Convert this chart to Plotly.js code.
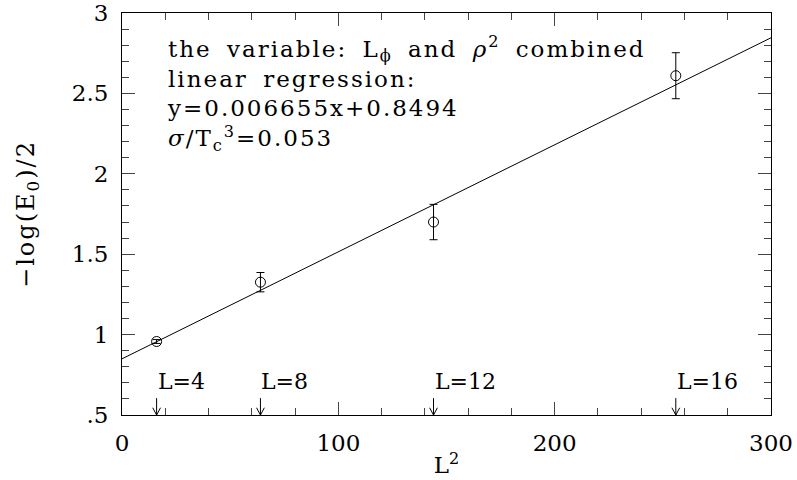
<!DOCTYPE html>
<html>
<head>
<meta charset="utf-8">
<script src="https://cdn.plot.ly/plotly-3.0.1.min.js"></script>
<style>
  html, body { margin: 0; padding: 0; background: #fff; }
  #chart { width: 797px; height: 480px; }
  /* the info block in the reference is set a little looser than DejaVu Serif */
  #chart .annotation[data-index="0"] .annotation-text { letter-spacing: 2px; word-spacing: 6px; }
  #chart .ytitle { letter-spacing: 2px; }
</style>
</head>
<body>
<div id="chart"></div>
<script>
const latticeL = [4, 8, 12, 16];
const lSquared = [16, 64, 144, 256];
const negLogE0 = [0.957, 1.326, 1.700, 2.610];
const errors = [0.012, 0.060, 0.110, 0.143];

// regression line end points, y = 0.006655x + 0.8494
const fitX = [0, 300];
const fitY = [0.8494, 2.8459];

const yTickVals = [0.5, 1, 1.5, 2, 2.5, 3];
const yTickText = ['.5', '1', '1.5', '2', '2.5', '3'];
const xTickVals = [0, 100, 200, 300];

const infoLines = [
  'the variable: L<sub>ϕ</sub> and <i>ρ</i><sup>2</sup> combined',
  'linear regression:',
  'y=0.006655x+0.8494',
  '<i>σ</i>/T<sub>c</sub><sup>3</sup>=0.053',
];

const FONT = 'DejaVu Serif, Liberation Serif, serif';
const INK = '#000';
const TICK = '#444';

const traces = [
  {
    x: fitX, y: fitY, mode: 'lines', hoverinfo: 'skip',
    line: { color: INK, width: 1 },
  },
  {
    x: lSquared, y: negLogE0, mode: 'markers',
    marker: { symbol: 'circle-open', size: 10, color: INK, line: { width: 1, color: INK } },
    error_y: { type: 'data', array: errors, visible: true, color: INK, thickness: 1, width: 4 },
  },
];

const annotations = [{
  x: 0.066, y: 0.958, xref: 'paper', yref: 'paper', xanchor: 'left', yanchor: 'top',
  align: 'left', showarrow: false,
  text: infoLines.join('<br>'),
  font: { family: FONT, size: 23, color: INK },
}];

// arrows pointing at each L^2 on the x axis, with their labels
const shapes = [];
lSquared.forEach((x, i) => {
  shapes.push({
    type: 'line', xref: 'x', yref: 'y', x0: x, x1: x, y0: 0.5, y1: 0.605,
    line: { color: INK, width: 1 },
  });
  shapes.push({
    type: 'path', xref: 'x', yref: 'y',
    path: `M ${x - 1.8},0.545 L ${x},0.5 L ${x + 1.8},0.545`,
    line: { color: INK, width: 1 },
  });
  annotations.push({
    x: x, y: 0.708, xref: 'x', yref: 'y', xanchor: 'left', yanchor: 'middle',
    text: `L=${latticeL[i]}`, showarrow: false, xshift: -1,
    font: { family: FONT, size: 22, color: INK },
  });
});

const axisCommon = {
  showgrid: false, zeroline: false, showline: true, linecolor: INK, linewidth: 1,
  mirror: 'allticks', ticks: 'inside', tickcolor: TICK, tickwidth: 1, ticklen: 13,
  tickfont: { family: FONT, size: 23, color: INK },
};

const layout = {
  width: 797, height: 480,
  paper_bgcolor: '#fff', plot_bgcolor: '#fff',
  showlegend: false,
  margin: { l: 122, r: 26, t: 13, b: 65 },
  font: { family: FONT, color: INK },
  xaxis: Object.assign({}, axisCommon, {
    range: [0, 300], tickvals: xTickVals, ticklabelstandoff: 7,
    minor: { dtick: 20, ticks: 'inside', ticklen: 7, tickcolor: TICK, tickwidth: 1 },
    title: { text: 'L<sup>2</sup>', font: { family: FONT, size: 23, color: INK }, standoff: 2 },
  }),
  yaxis: Object.assign({}, axisCommon, {
    range: [0.5, 3], tickvals: yTickVals, ticktext: yTickText, ticklabelstandoff: 8,
    minor: { dtick: 0.1, ticks: 'inside', ticklen: 7, tickcolor: TICK, tickwidth: 1 },
    title: { text: '−log(E<sub>0</sub>)/2', font: { family: FONT, size: 24, color: INK }, standoff: 30 },
  }),
  shapes: shapes,
  annotations: annotations,
};

Plotly.newPlot('chart', traces, layout, { displayModeBar: false, staticPlot: true });
</script>
</body>
</html>
